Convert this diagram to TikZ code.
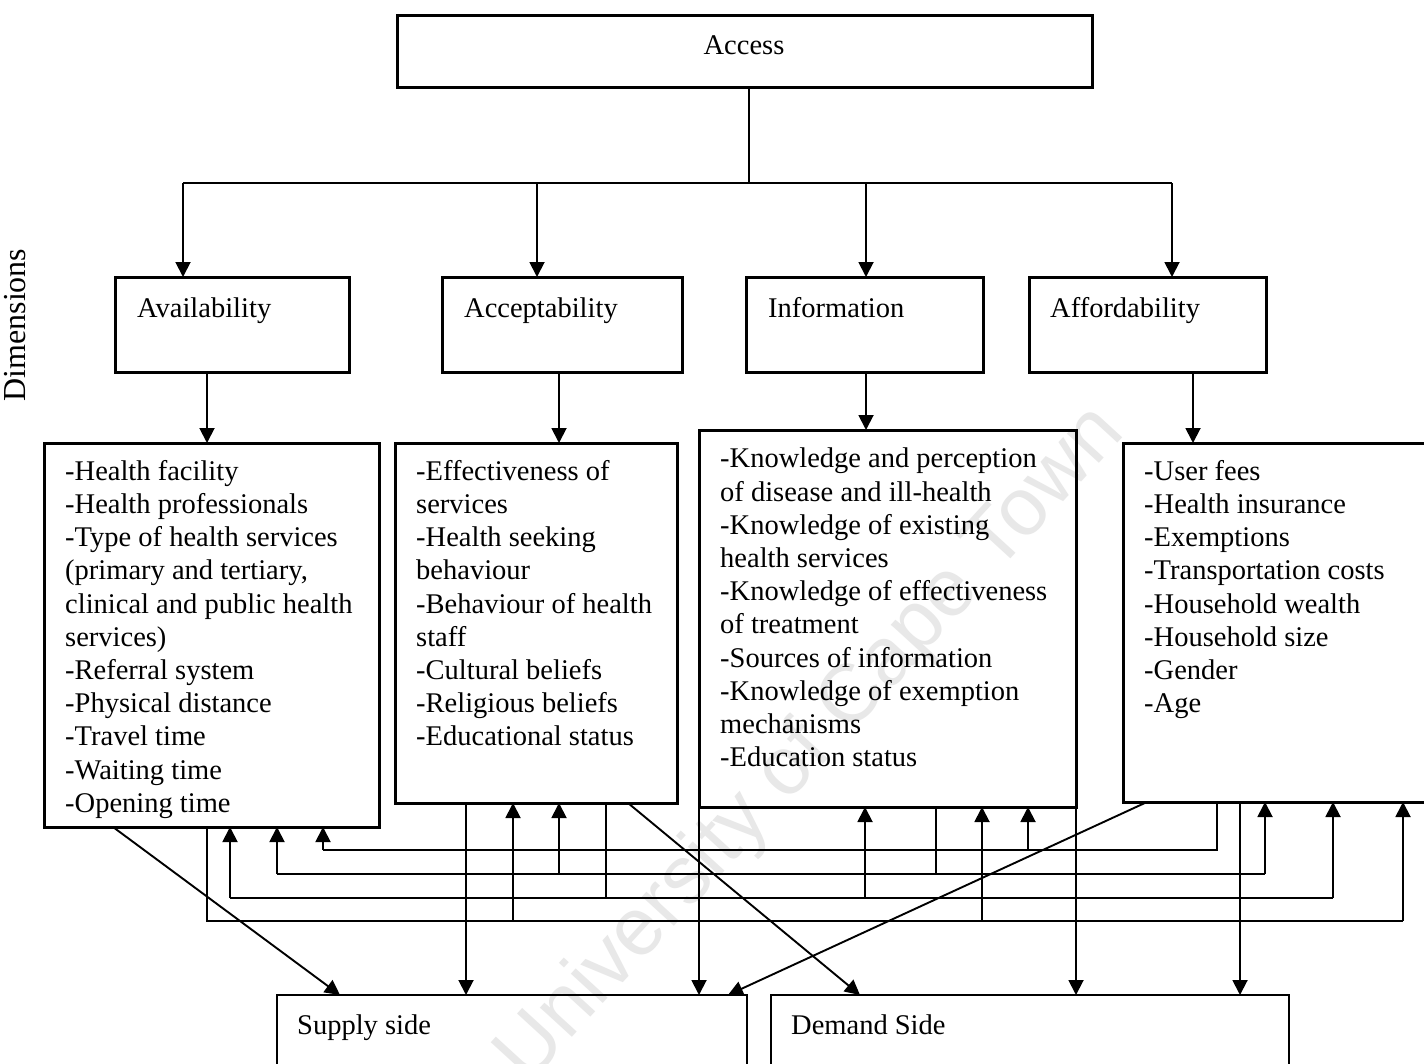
\documentclass[tikz,border=0pt]{standalone}
\usepackage{fontspec}
\setmainfont{Liberation Serif}
\newfontfamily\wmfont{Liberation Sans}
\usetikzlibrary{arrows.meta,calc}
\begin{document}
\begin{tikzpicture}[x=1pt,y=-1pt,
  thickbox/.style={draw,line width=3pt,inner sep=0pt,outer sep=0pt,anchor=north west},
  thinbox/.style={draw,line width=2.4pt,inner sep=0pt,outer sep=0pt,anchor=north west},
  lbl/.style={inner sep=0pt,anchor=base west,font=\fontsize{28.5}{33.2}\selectfont},
  lst/.style={inner sep=0pt,anchor=north west,align=left,font=\fontsize{28.5}{33.2}\selectfont},
  conn/.style={line width=1.9pt},
  arr/.style={conn,-{Triangle[length=15pt,width=15pt]}},
]
\useasboundingbox (0,0) rectangle (1424,1063);
\fill[white] (0,0) rectangle (1424,1063);

% watermark
\node[rotate=47.5,text=black!9,inner sep=0pt,font=\wmfont\fontsize{82}{90}\selectfont] (wm) at (812,745) {University of Cape Town};

% boxes
\node[thickbox,minimum width=695pt,minimum height=72pt] (access) at (397,15) {};
\node[thickbox,minimum width=234pt,minimum height=95pt] (avail) at (115,277) {};
\node[thickbox,minimum width=240pt,minimum height=95pt] (accept) at (442,277) {};
\node[thickbox,minimum width=237pt,minimum height=95pt] (info) at (746,277) {};
\node[thickbox,minimum width=237pt,minimum height=95pt] (afford) at (1029,277) {};

\node[thickbox,minimum width=335pt,minimum height=384pt] (availL) at (44,443) {};
\node[thickbox,minimum width=282pt,minimum height=360pt] (acceptL) at (395,443) {};
\node[thickbox,minimum width=377pt,minimum height=377pt] (infoL) at (699,430) {};
\node[thickbox,minimum width=330pt,minimum height=359pt] (affL) at (1123,443) {};

\node[thinbox,minimum width=470pt,minimum height=100pt] (supply) at (277,995) {};
\node[thinbox,minimum width=518pt,minimum height=100pt] (demand) at (771,995) {};

% texts
\node[lbl,anchor=base] (accessT) at (744,54) {Access};
\node[lbl] (availT) at (137,317) {Availability};
\node[lbl] (acceptT) at (464,317) {Acceptability};
\node[lbl] (infoT) at (768,317) {Information};
\node[lbl] (affordT) at (1050,317) {Affordability};
\node[lbl] (supplyT) at (297,1034) {Supply side};
\node[lbl] (demandT) at (791,1034) {Demand Side};
\node[rotate=90,inner sep=0pt,font=\fontsize{32}{36}\selectfont] (dim) at (15,325) {Dimensions};

\node[lst] (availX) at (65,460) {-Health facility\\-Health professionals\\-Type of health services\\(primary and tertiary,\\clinical and public health\\services)\\-Referral system\\-Physical distance\\-Travel time\\-Waiting time\\-Opening time};
\node[lst] (acceptX) at (416,460) {-Effectiveness of\\services\\-Health seeking\\behaviour\\-Behaviour of health\\staff\\-Cultural beliefs\\-Religious beliefs\\-Educational status};
\node[lst] (infoX) at (720,448) {-Knowledge and perception\\of disease and ill-health\\-Knowledge of existing\\health services\\-Knowledge of effectiveness\\of treatment\\-Sources of information\\-Knowledge of exemption\\mechanisms\\-Education status};
\node[lst] (affX) at (1144,460) {-User fees\\-Health insurance\\-Exemptions\\-Transportation costs\\-Household wealth\\-Household size\\-Gender\\-Age};

% access to dimensions
\coordinate (hub) at (749,183);
\coordinate (h1) at (183,183);
\coordinate (h2) at (537,183);
\coordinate (h3) at (866,183);
\coordinate (h4) at (1172,183);
\draw[conn] (access.south -| hub) -- (hub);
\draw[conn] (h1) -- (h4);
\draw[arr] (h1) -- (avail.north -| h1);
\draw[arr] (h2) -- (accept.north -| h2);
\draw[arr] (h3) -- (info.north -| h3);
\draw[arr] (h4) -- (afford.north -| h4);

% dimensions to lists
\coordinate (v1) at (207,400);
\coordinate (v2) at (559,400);
\coordinate (v3) at (866,400);
\coordinate (v4) at (1193,400);
\draw[arr] (avail.south -| v1) -- (availL.north -| v1);
\draw[arr] (accept.south -| v2) -- (acceptL.north -| v2);
\draw[arr] (info.south -| v3) -- (infoL.north -| v3);
\draw[arr] (afford.south -| v4) -- (affL.north -| v4);

% feedback line 1 (from affordability)
\coordinate (a1) at (323,850);
\coordinate (a2) at (1028,850);
\coordinate (a3) at (1217,850);
\draw[conn] (affL.south -| a3) -- (a3) -- (a1);
\draw[arr] (a1) -- (availL.south -| a1);
\draw[arr] (a2) -- (infoL.south -| a2);

% feedback line 2 (from information)
\coordinate (b1) at (277,874);
\coordinate (b2) at (559,874);
\coordinate (b3) at (936,874);
\coordinate (b4) at (1265,874);
\draw[conn] (infoL.south -| b3) -- (b3);
\draw[conn] (b1) -- (b4);
\draw[arr] (b1) -- (availL.south -| b1);
\draw[arr] (b2) -- (acceptL.south -| b2);
\draw[arr] (b4) -- (affL.south -| b4);

% feedback line 3 (from acceptability)
\coordinate (c1) at (230,898);
\coordinate (c2) at (606,898);
\coordinate (c3) at (865,898);
\coordinate (c4) at (1333,898);
\draw[conn] (acceptL.south -| c2) -- (c2);
\draw[conn] (c1) -- (c4);
\draw[arr] (c1) -- (availL.south -| c1);
\draw[arr] (c3) -- (infoL.south -| c3);
\draw[arr] (c4) -- (affL.south -| c4);

% feedback line 4 (from availability)
\coordinate (e1) at (207,921);
\coordinate (e2) at (513,921);
\coordinate (e3) at (982,921);
\coordinate (e4) at (1403,921);
\draw[conn] (availL.south -| e1) -- (e1) -- (e4);
\draw[arr] (e2) -- (acceptL.south -| e2);
\draw[arr] (e3) -- (infoL.south -| e3);
\draw[arr] (e4) -- (affL.south -| e4);

% to supply and demand sides
\coordinate (s1) at (113,0);
\coordinate (s1t) at (340,0);
\coordinate (s2) at (466,0);
\coordinate (s4) at (1147,0);
\coordinate (s4t) at (728,0);
\coordinate (d1) at (628,0);
\coordinate (d1t) at (860,0);
\coordinate (d3) at (1240,0);
\draw[arr] (availL.south -| s1) -- (supply.north -| s1t);
\draw[arr] (acceptL.south -| s2) -- (supply.north -| s2);
\draw[arr] (infoL.south west) -- (supply.north -| infoL.south west);
\draw[arr] (affL.south -| s4) -- (supply.north -| s4t);
\draw[arr] (acceptL.south -| d1) -- (demand.north -| d1t);
\draw[arr] (infoL.south east) -- (demand.north -| infoL.south east);
\draw[arr] (affL.south -| d3) -- (demand.north -| d3);
\end{tikzpicture}
\end{document}
